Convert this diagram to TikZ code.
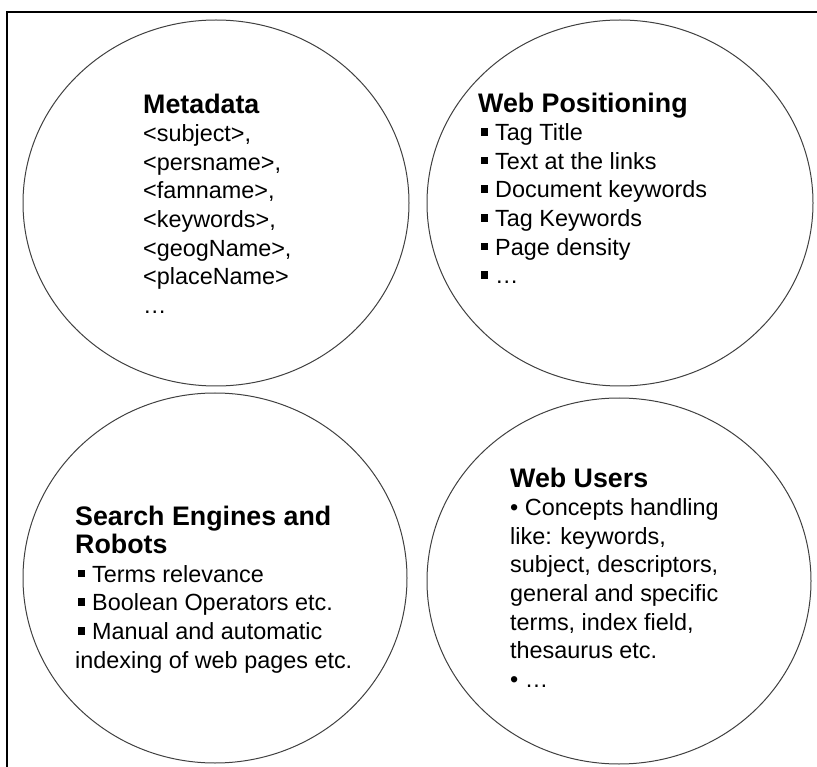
\documentclass[tikz,border=0pt]{standalone}
\usepackage{fontspec}
\setmainfont{Liberation Sans}
\usetikzlibrary{shapes.geometric}
\newcommand{\sqbul}{\hspace{2.5pt}\rule[5pt]{7.5pt}{7.5pt}\hspace{7pt}}
\newcommand{\bubbletitle}[1]{{\bfseries\fontsize{26.8}{30}\selectfont #1}}

\begin{document}
\begin{tikzpicture}[
    x=1pt, y=-1pt,
    every node/.style={inner sep=0pt, font=\fontsize{23.4}{28.6}\selectfont},
    bubble/.style={draw=black!75, line width=1pt, ellipse, minimum width=386pt, minimum height=366pt},
    bubble text/.style={anchor=north west, align=left},
    frame/.style={line width=1.7pt, black}
]
\useasboundingbox (0,0) rectangle (817,767);

% Frame
\draw[frame] (7,767) -- (7,12) -- (817,12);

% Circles
\node[bubble] (meta) at (216,203) {};
\node[bubble] (webpos) at (620,203) {};
\node[bubble, minimum height=370pt, minimum width=384pt] (engines) at (215,578) {};
\node[bubble, minimum width=384pt] (users) at (619,581) {};

% Texts
\node[bubble text] (metatxt) at (143,93.5) {\bubbletitle{Metadata}\\
  <subject>,\\ <persname>,\\ <famname>,\\ <keywords>,\\ <geogName>,\\ <placeName>\\ …};
\node[bubble text] (webpostxt) at (478,92.5) {\bubbletitle{Web Positioning}\\
  \sqbul Tag Title\\ \sqbul Text at the links\\ \sqbul Document keywords\\
  \sqbul Tag Keywords\\ \sqbul Page density\\ \sqbul …};
\node[bubble text] (enginestxt) at (75,505.5) {\bubbletitle{Search Engines and}\\
  \bubbletitle{Robots}\\ \sqbul Terms relevance\\ \sqbul Boolean Operators etc.\\
  \sqbul Manual and automatic\\ indexing of web pages etc.};
\node[bubble text] (userstxt) at (510,467.5) {\bubbletitle{Web Users}\\
  • Concepts handling\\ like: keywords,\\ subject, descriptors,\\
  general and specific\\ terms, index field,\\ thesaurus etc.\\ • …};

\end{tikzpicture}
\end{document}
